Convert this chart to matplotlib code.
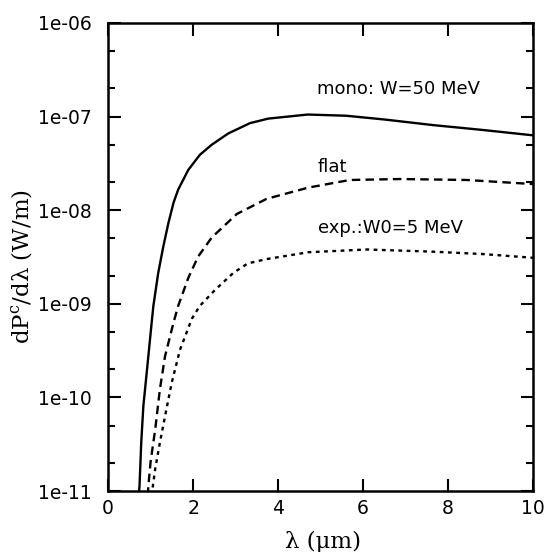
import matplotlib
matplotlib.use("Agg")
import matplotlib.pyplot as plt
from matplotlib.ticker import LogLocator, FuncFormatter, MultipleLocator, NullFormatter

plt.rcParams['font.family'] = ['DejaVu Sans']
plt.rcParams['mathtext.fontset'] = 'dejavuserif'
plt.rcParams['xtick.direction'] = 'in'
plt.rcParams['ytick.direction'] = 'in'
plt.rcParams['xtick.major.size'] = 9
plt.rcParams['ytick.major.size'] = 9
plt.rcParams['ytick.minor.size'] = 5
plt.rcParams['xtick.major.width'] = 1.5
plt.rcParams['ytick.major.width'] = 1.5
plt.rcParams['ytick.minor.width'] = 1.5

# wavelength (um) and spectral power dPc/dlambda (W/m) for each beam spectrum
lam_mono = [0.72, 0.74, 0.78, 0.83, 0.91, 1.03, 1.066, 1.18, 1.30, 1.42, 1.54, 1.65,
            1.89, 2.16, 2.44, 2.83, 3.34, 3.77, 4.70, 5.60, 6.50, 7.65, 8.80, 10.0]
p_mono = [8.9e-12, 1.15e-11, 3.3e-11, 8.1e-11, 1.86e-10, 6.6e-10, 9.5e-10, 2.14e-09,
          4.1e-09, 7.3e-09, 1.2e-08, 1.66e-08, 2.7e-08, 3.9e-08, 5.0e-08, 6.6e-08,
          8.5e-08, 9.5e-08, 1.05e-07, 1.02e-07, 9.3e-08, 8.1e-08, 7.2e-08, 6.3e-08]

lam_flat = [0.93, 0.95, 1.00, 1.11, 1.22, 1.34, 1.54, 1.65, 1.89, 2.12, 2.44, 2.91,
            3.03, 3.73, 4.71, 5.69, 6.87, 8.44, 10.0]
p_flat = [8.9e-12, 1.15e-11, 2.05e-11, 4.6e-11, 1.23e-10, 2.75e-10, 6.3e-10, 9.5e-10,
          1.9e-09, 3.2e-09, 5.1e-09, 8.1e-09, 9.1e-09, 1.32e-08, 1.74e-08, 2.1e-08,
          2.15e-08, 2.1e-08, 1.9e-08]

lam_exp = [1.03, 1.05, 1.11, 1.22, 1.34, 1.50, 1.69, 1.97, 2.16, 2.52, 2.95, 3.29,
           3.73, 4.71, 6.09, 7.65, 8.80, 10.0]
p_exp = [8.9e-12, 1.1e-11, 1.74e-11, 3.3e-11, 6.3e-11, 1.45e-10, 3.2e-10, 6.9e-10,
         9.5e-10, 1.41e-09, 2.14e-09, 2.7e-09, 3.0e-09, 3.55e-09, 3.8e-09, 3.6e-09,
         3.4e-09, 3.1e-09]

fig = plt.figure(figsize=(5.46, 5.52), dpi=100)
ax = fig.add_axes([0.198, 0.1105, 0.778, 0.848])

ax.plot(lam_mono, p_mono, color='black', lw=1.7, linestyle='-')
ax.plot(lam_flat, p_flat, color='black', lw=1.7, linestyle=(0, (3.6, 2.2)))
ax.plot(lam_exp, p_exp, color='black', lw=1.7, linestyle=(0, (1.6, 1.9)))

ax.set_yscale('log')
ax.set_xlim(0, 10)
ax.set_ylim(1e-11, 1e-06)

ax.xaxis.set_major_locator(MultipleLocator(2))
ax.yaxis.set_major_locator(LogLocator(base=10, numticks=10))
ax.yaxis.set_minor_locator(LogLocator(base=10, subs=(2.0, 5.0), numticks=10))
ax.yaxis.set_major_formatter(FuncFormatter(lambda v, pos: f"{v:.0e}"))
ax.yaxis.set_minor_formatter(NullFormatter())

ax.tick_params(axis='both', which='both', direction='in', top=True, right=True,
               labelsize=13.5)
ax.tick_params(axis='y', which='minor', labelleft=False, labelright=False)
ax.tick_params(axis='y', which='major', pad=12)
ax.tick_params(axis='x', which='major', pad=6)
for sp in ax.spines.values():
    sp.set_linewidth(1.8)

ax.text(4.92, 10**-6.71, "mono: W=50 MeV", fontsize=13, va='center', ha='left')
ax.text(4.94, 10**-7.54, "flat", fontsize=13, va='center', ha='left')
ax.text(4.94, 10**-8.19, "exp.:W0=5 MeV", fontsize=13, va='center', ha='left')

ax.set_xlabel("λ (μm)", fontsize=16.5, family='DejaVu Serif')
ax.set_ylabel(r"dP$^{\rm c}$/dλ (W/m)", fontsize=16.5, family='DejaVu Serif')
ax.xaxis.set_label_coords(0.506, -0.085)
ax.yaxis.set_label_coords(-0.175, 0.479)

fig.savefig("out.png", dpi=100)
